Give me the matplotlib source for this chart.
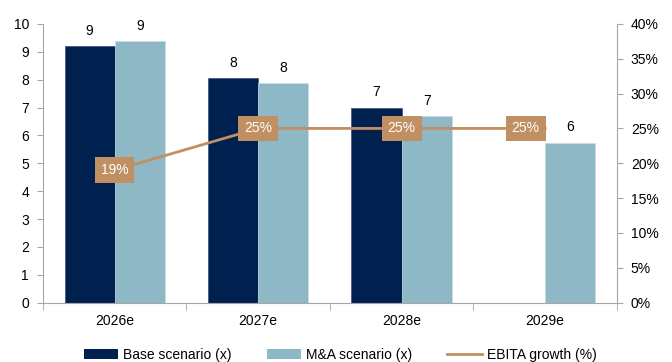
import numpy as np
import matplotlib
matplotlib.use('Agg')
from matplotlib import pyplot as plt
from matplotlib.patches import Patch
from matplotlib.lines import Line2D

plt.rcParams['font.family'] = ['Liberation Sans', 'DejaVu Sans']

years = ['2026e', '2027e', '2028e', '2029e']
base = [9.2, 8.05, 6.99, np.nan]          # Base scenario (x)
mna = [9.38, 7.88, 6.7, 5.74]             # M&A scenario (x)
ebita_growth = [19.0, 25.0, 25.0, 25.0]   # EBITA growth (%)
base_labels = ['9', '8', '7', '']
mna_labels = ['9', '8', '7', '6']
growth_labels = ['19%', '25%', '25%', '25%']

navy = '#00214F'
light = '#8FB8C7'
tan = '#C08F62'
grey = '#A6A6A6'

fig = plt.figure(figsize=(6.72, 3.62), dpi=100)
ax = fig.add_axes([0.064, 0.164, 0.854, 0.770])
ax2 = ax.twinx()

x = np.arange(len(years))
w = 0.35
ax.bar(x - w / 2, base, w, color=navy, edgecolor='#3A4F7A', linewidth=0.5, zorder=2)
ax.bar(x + w / 2, mna, w, color=light, edgecolor='#C7DCE4', linewidth=0.5, zorder=2)

for i in range(len(years)):
    if base_labels[i]:
        ax.annotate(base_labels[i], (x[i] - w / 2, base[i]), xytext=(0, 6), textcoords='offset points',
                    ha='center', va='bottom', fontsize=10)
    ax.annotate(mna_labels[i], (x[i] + w / 2, mna[i]), xytext=(0, 6), textcoords='offset points',
                ha='center', va='bottom', fontsize=10)

ax.set_xlim(-0.5, 3.5)
ax.set_ylim(0, 10)
ax.set_yticks(range(0, 11))
ax.set_xticks(x)
ax.set_xticklabels(years)
ax.set_xticks(np.arange(-0.5, 4.0, 1.0), minor=True)
ax.tick_params(axis='x', which='major', length=0, labelsize=10, pad=8)
ax.tick_params(axis='x', which='minor', length=5, color=grey, direction='out')
ax.tick_params(axis='y', length=4, color=grey, labelsize=10, pad=6)
for s in ['top', 'right']:
    ax.spines[s].set_visible(False)
for s in ['left', 'bottom']:
    ax.spines[s].set_color(grey)

ax2.plot(x, ebita_growth, color=tan, linewidth=2, zorder=3)
for i in range(len(years)):
    # last label sits to the left of its point so it does not hit the "6"
    dx = -14 if i == len(years) - 1 else 0
    ax2.annotate(growth_labels[i], (x[i], ebita_growth[i]), xytext=(dx, 0), textcoords='offset points',
                 ha='center', va='center', color='white', fontsize=10,
                 bbox=dict(boxstyle='square,pad=0.42', facecolor=tan, edgecolor='none'), zorder=4)
ax2.set_ylim(0, 40)
ax2.set_yticks(range(0, 41, 5))
ax2.set_yticklabels([f'{v}%' for v in range(0, 41, 5)])
ax2.tick_params(axis='y', length=4, color=grey, labelsize=10, pad=6)
for s in ['top', 'left', 'bottom']:
    ax2.spines[s].set_visible(False)
ax2.spines['right'].set_color(grey)

handles = [Patch(facecolor=navy), Patch(facecolor=light), Line2D([0], [0], color=tan, linewidth=2)]
fig.legend(handles, ['Base scenario (x)', 'M&A scenario (x)', 'EBITA growth (%)'], loc='lower center',
           bbox_to_anchor=(0.506, -0.035), ncol=3, frameon=False, fontsize=10, handlelength=2.5,
           handletextpad=0.35, columnspacing=2.5)

fig.savefig('out.png', dpi=100)
